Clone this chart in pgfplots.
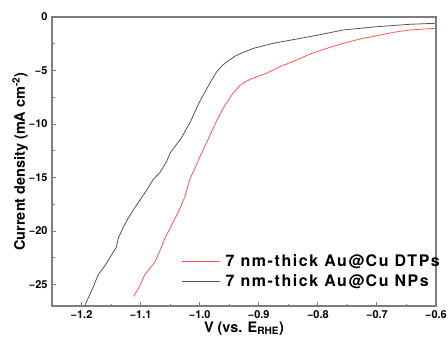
\documentclass[border=0pt]{standalone}
\usepackage{pgfplots}
\pgfplotsset{compat=1.18}
\usepackage{fontspec}
\setmainfont{TeX Gyre Heros}
\definecolor{axgray}{RGB}{125,125,125}
\definecolor{redc}{RGB}{255,85,85}
\definecolor{blkc}{RGB}{85,85,85}
\begin{document}
\begin{tikzpicture}
\begin{axis}[
  name=ax,
  scale only axis,
  width=384bp, height=289bp,
  xmin=-1.25, xmax=-0.6,
  ymin=-27, ymax=0,
  axis line style={axgray, line width=1.1bp},
  tick style={axgray, line width=0.9bp},
  tick align=inside,
  xtick pos=bottom, ytick pos=left,
  major tick length=4bp, minor tick length=2.5bp,
  xtick={-1.2,-1.1,-1.0,-0.9,-0.8,-0.7,-0.6},
  xticklabels={−1.2,−1.1,−1.0,−0.9,−0.8,−0.7,−0.6},
  ytick={-25,-20,-15,-10,-5,0},
  yticklabels={−25,−20,−15,−10,−5,0},
  minor x tick num=1,
  minor y tick num=1,
  ticklabel style={font=\fontsize{11}{13}\selectfont\bfseries},
  xticklabel style={yshift=-1bp},
  yticklabel style={xshift=-1bp},
  label style={font=\fontsize{14.5}{17}\selectfont\bfseries},
  xlabel={V (vs. E\textsubscript{RHE})},
  ylabel={Current density (mA cm\textsuperscript{-2})},
  xlabel style={yshift=3.5bp},
  ylabel style={yshift=-6bp},
  legend style={at={(rel axis cs:0.33,0.184)}, anchor=north west, draw=none, fill=none,
    font=\fontsize{16}{18}\selectfont\bfseries\addfontfeature{LetterSpace=10}, nodes={inner sep=0pt}, row sep=6bp, column sep=5bp},
  legend cell align=left,
  legend image code/.code={\draw[#1] (0bp,0bp) -- (38bp,0bp);},
]
\addplot[redc, line width=0.8bp] coordinates {
(-1.112,-26.1) (-1.104,-25.4) (-1.093,-24.1) (-1.076,-22.9) (-1.067,-21.8)
(-1.059,-20.7) (-1.047,-19.4) (-1.036,-18.2) (-1.025,-16.8) (-1.017,-15.2)
(-1.008,-14.1) (-1.000,-13.1) (-0.988,-11.7) (-0.974,-10.0) (-0.960,-8.5)
(-0.946,-7.3) (-0.932,-6.4) (-0.921,-6.0) (-0.909,-5.7) (-0.887,-5.26) (-0.864,-4.64)
(-0.836,-4.02) (-0.813,-3.45) (-0.785,-2.93) (-0.757,-2.46) (-0.729,-2.06)
(-0.700,-1.75) (-0.672,-1.43) (-0.644,-1.21) (-0.602,-1.06)
};
\addlegendentry{7 nm-thick Au@Cu DTPs}
\addplot[blkc, line width=0.8bp] coordinates {
(-1.194,-26.9) (-1.180,-25.2) (-1.172,-24.1) (-1.160,-23.2) (-1.149,-22.2)
(-1.141,-21.5) (-1.138,-20.7) (-1.129,-19.6) (-1.121,-18.8) (-1.112,-18.0)
(-1.101,-17.1) (-1.090,-16.2) (-1.079,-15.2) (-1.067,-14.5) (-1.056,-13.5)
(-1.050,-12.7) (-1.042,-12.1) (-1.031,-11.3) (-1.022,-10.4) (-1.017,-9.93)
(-1.008,-8.85) (-1.000,-7.9) (-0.991,-7.0) (-0.981,-6.0) (-0.971,-5.1) (-0.962,-4.55) (-0.954,-4.18)
(-0.937,-3.55) (-0.909,-2.93) (-0.876,-2.46) (-0.836,-2.06) (-0.799,-1.68)
(-0.757,-1.21) (-0.701,-0.91) (-0.644,-0.68) (-0.602,-0.59)
};
\addlegendentry{7 nm-thick Au@Cu NPs}
\end{axis}
\pgfresetboundingbox
\path ([shift={(-52bp,-30bp)}]ax.south west) rectangle ([shift={(12bp,17bp)}]ax.north east);
\end{tikzpicture}
\end{document}
